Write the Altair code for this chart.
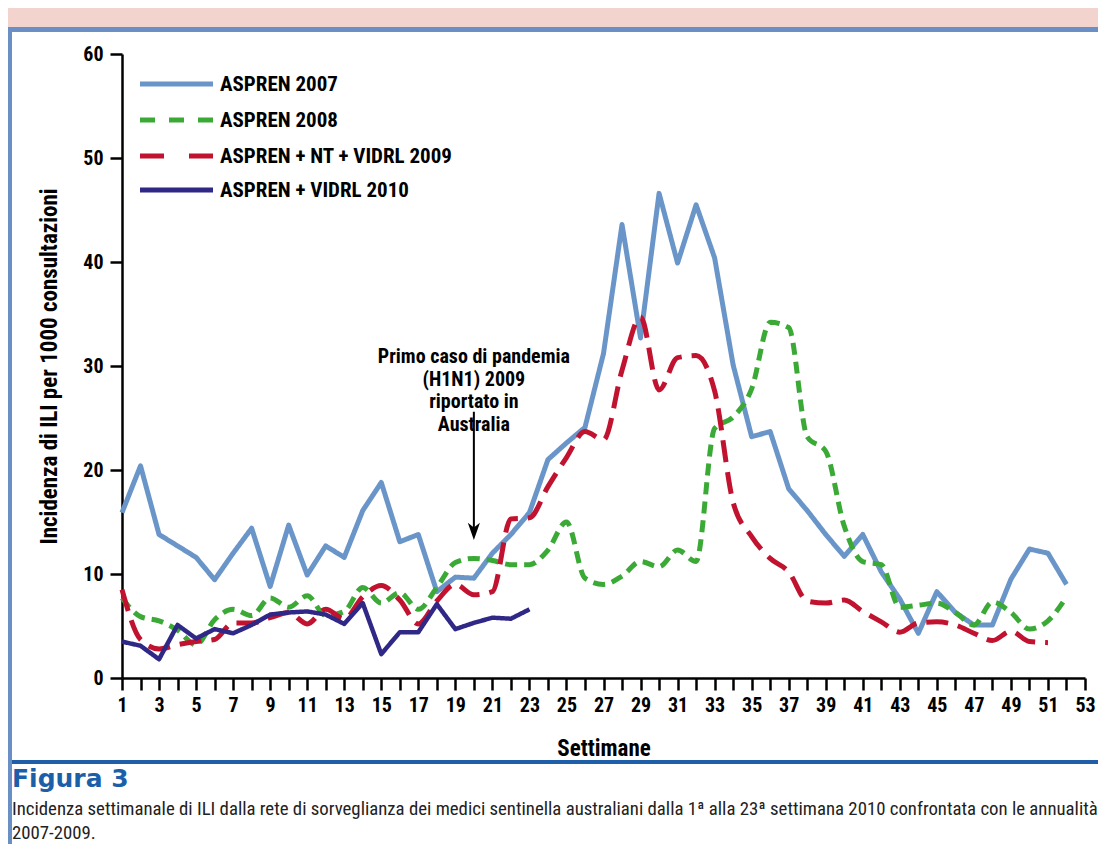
import altair as alt
import pandas as pd

FONT = "Liberation Sans Narrow, Roboto Condensed, DejaVu Sans Condensed, Arial Narrow, Liberation Sans, sans-serif"

weeks = list(range(1, 54))
series_names = ["ASPREN 2007", "ASPREN 2008", "ASPREN + NT + VIDRL 2009", "ASPREN + VIDRL 2010"]
series_colors = ["#6a95c9", "#3aa935", "#c1132f", "#2f2886"]
series_dash = [[1, 0], [12, 7], [22, 10], [1, 0]]
legend_dash = [[1, 0], [15, 14], [24, 25], [1, 0]]

s2007 = [15.9, 20.4, 13.8, 12.7, 11.6, 9.45, 12.0, 14.4, 8.8, 14.7,
         9.9, 12.7, 11.6, 16.1, 18.8, 13.1, 13.8, 8.3, 9.7, 9.6,
         12.0, 13.8, 15.9, 21.0, 22.6, 24.1, 31.2, 43.6, 32.7, 46.6,
         39.9, 45.5, 40.4, 30.1, 23.2, 23.7, 18.2, 16.1, 13.8, 11.7,
         13.8, 10.2, 7.6, 4.3, 8.3, 6.3, 5.1, 5.1, 9.5, 12.4,
         12.0, 9.0]
s2008 = [7.7, 5.9, 5.5, 4.6, 3.2, 5.6, 6.6, 6.0, 7.7, 6.8,
         7.9, 6.0, 6.4, 8.7, 7.2, 8.2, 6.6, 8.7, 11.1, 11.5,
         11.3, 10.9, 10.9, 12.3, 15.0, 9.6, 9.0, 9.8, 11.2, 10.7,
         12.3, 11.2, 24.0, 25.1, 27.8, 34.2, 33.7, 23.2, 21.8, 14.6,
         11.2, 10.9, 6.8, 7.0, 7.2, 6.3, 5.1, 7.3, 6.3, 4.7,
         5.5, 7.8]
s2009 = [8.5, 3.7, 2.8, 3.2, 3.5, 3.7, 5.3, 5.3, 5.8, 6.3,
         5.2, 6.6, 5.7, 7.8, 8.9, 7.5, 5.2, 7.4, 9.0, 8.0,
         8.3, 15.3, 15.4, 18.4, 21.2, 23.7, 22.9, 29.6, 34.7, 27.7,
         30.8, 31.0, 27.6, 16.9, 13.6, 11.5, 10.2, 7.4, 7.2, 7.5,
         6.4, 5.4, 4.4, 5.3, 5.4, 5.1, 4.3, 3.6, 4.5, 3.5,
         3.4]
s2010 = [3.5, 3.1, 1.8, 5.1, 3.8, 4.7, 4.3, 5.1, 6.1, 6.3,
         6.4, 6.1, 5.2, 7.2, 2.3, 4.4, 4.4, 7.1, 4.7, 5.3,
         5.8, 5.7, 6.6]

ann_lines = ["Primo caso di pandemia", "(H1N1) 2009", "riportato in", "Australia"]
ann_week = 20
ann_y = [30.85, 28.65, 26.5, 24.35]
arrow_from = 25.6
arrow_to = 14.1

fig_label = "Figura 3"
caption_1 = ("Incidenza settimanale di ILI dalla rete di sorveglianza dei medici sentinella australiani "
             "dalla 1ª alla 23ª settimana 2010 confrontata con le annualità")
caption_2 = "2007-2009."

rows = []
for name, vals in zip(series_names, [s2007, s2008, s2009, s2010]):
    for w, v in zip(weeks, vals):
        rows.append({"week": w, "value": v, "serie": name})
df = pd.DataFrame(rows)

x_axis = alt.Axis(
    values=weeks,
    labelExpr="datum.value % 2 == 1 ? datum.label : ''",
    tickSize=12, tickWidth=2.5, tickColor="black",
    domainColor="black", domainWidth=2.5,
    labelFont=FONT, labelFontSize=20, labelFontWeight="bold", labelColor="black",
    labelPadding=5, labelOverlap=False, labelFlush=False, grid=False,
    title="Settimane", titleFont=FONT, titleFontSize=23, titleFontWeight="bold",
    titleColor="black", titleY=70, titleBaseline="middle",
)
y_axis = alt.Axis(
    values=[0, 10, 20, 30, 40, 50, 60],
    tickSize=12, tickWidth=2.5, tickColor="black",
    domainColor="black", domainWidth=2.5,
    labelFont=FONT, labelFontSize=20, labelFontWeight="bold", labelColor="black",
    labelPadding=7, labelFlush=False, labelOverlap=False, grid=False,
    title="Incidenza di ILI per 1000 consultazioni", titleFont=FONT, titleFontSize=23,
    titleFontWeight="bold", titleColor="black", titleAngle=270,
    titleX=-73, titleY=312, titleAlign="center", titleBaseline="middle",
)
x_scale = alt.Scale(domain=[1, 53], nice=False, zero=False)
y_scale = alt.Scale(domain=[0, 60], nice=False, zero=True)


def X(field):
    return alt.X(field, type="quantitative", scale=x_scale, axis=x_axis)


def Y(field):
    return alt.Y(field, type="quantitative", scale=y_scale, axis=y_axis)


color_enc = alt.Color("serie:N", scale=alt.Scale(domain=series_names, range=series_colors), legend=None)
dash_enc = alt.StrokeDash("serie:N", scale=alt.Scale(domain=series_names, range=series_dash), legend=None)

base = alt.Chart(df).encode(x=X("week"), y=Y("value"), color=color_enc, strokeDash=dash_enc)

l2007 = base.transform_filter(alt.datum.serie == series_names[0]).mark_line(strokeWidth=5, strokeJoin="round")
lsmooth = base.transform_filter(
    (alt.datum.serie == series_names[1]) | (alt.datum.serie == series_names[2])
).mark_line(strokeWidth=5, interpolate="monotone", strokeJoin="round")
l2010 = base.transform_filter(alt.datum.serie == series_names[3]).mark_line(strokeWidth=4.5, strokeJoin="round")

ann_df = pd.DataFrame({"week": [ann_week] * len(ann_lines), "value": ann_y, "txt": ann_lines})
ann_text = alt.Chart(ann_df).mark_text(
    font=FONT, fontSize=20, fontWeight="bold", color="black", align="center", baseline="middle"
).encode(x=X("week"), y=Y("value"), text="txt:N")

arrow_df = pd.DataFrame({"week": [ann_week], "y1": [arrow_from], "y2": [arrow_to]})
arrow_line = alt.Chart(arrow_df).mark_rule(color="black", strokeWidth=2).encode(
    x=X("week"), y=Y("y1"), y2="y2:Q")
arrow_head = alt.Chart(arrow_df).mark_point(
    shape="M0,1L-0.7,-1L0,-0.45L0.7,-1Z", size=300, filled=True, color="black", opacity=1
).encode(x=X("week"), y=Y("y2"))

# custom legend
legend_layers = []
leg_x0, leg_x1, leg_text_x = 18, 91, 98
leg_y = [30, 66, 102, 136]
for name, col, dash, yy in zip(series_names, series_colors, legend_dash, leg_y):
    dd = pd.DataFrame({"serie": [name]})
    legend_layers.append(
        alt.Chart(dd).mark_rule(color=col, strokeWidth=5, strokeDash=dash).encode(
            x=alt.value(leg_x0), x2=alt.value(leg_x1), y=alt.value(yy))
    )
    legend_layers.append(
        alt.Chart(dd).mark_text(
            font=FONT, fontSize=21, fontWeight="bold", color="black", align="left", baseline="middle"
        ).encode(x=alt.value(leg_text_x), y=alt.value(yy + 1), text="serie:N")
    )

dummy = pd.DataFrame({"d": [0]})
pink = alt.Chart(dummy).mark_rect(color="#f2d3cd").encode(
    x=alt.value(-114), x2=alt.value(976), y=alt.value(-46), y2=alt.value(-27))
top_bar = alt.Chart(dummy).mark_rect(color="#6a8fc4").encode(
    x=alt.value(-114), x2=alt.value(976), y=alt.value(-27), y2=alt.value(-22))
left_bar = alt.Chart(dummy).mark_rect(color="#6a8fc4").encode(
    x=alt.value(-114), x2=alt.value(-110), y=alt.value(-27), y2=alt.value(790))
bottom_line = alt.Chart(dummy).mark_rect(color="#1f5ea8").encode(
    x=alt.value(-110), x2=alt.value(976), y=alt.value(706), y2=alt.value(710))
fig_text = alt.Chart(dummy).mark_text(
    font="DejaVu Sans", fontWeight="bold", fontSize=25, color="#1c5fa9", align="left", baseline="alphabetic"
).encode(x=alt.value(-110), y=alt.value(733), text=alt.value(fig_label))
cap1 = alt.Chart(dummy).mark_text(
    font=FONT, fontSize=18.8, color="#222222", align="left", baseline="alphabetic"
).encode(x=alt.value(-110), y=alt.value(761), text=alt.value(caption_1))
cap2 = alt.Chart(dummy).mark_text(
    font=FONT, fontSize=18.8, color="#222222", align="left", baseline="alphabetic"
).encode(x=alt.value(-110), y=alt.value(785), text=alt.value(caption_2))

chart = alt.layer(
    pink, top_bar, left_bar, bottom_line, fig_text, cap1, cap2,
    l2007, lsmooth, l2010, ann_text, arrow_line, arrow_head, *legend_layers,
).properties(
    width=963, height=624,
    autosize=alt.AutoSizeParams(type="none"),
    padding={"left": 114, "top": 46, "right": 13, "bottom": 166},
    background="white",
).configure_view(stroke=None)

chart.save("out.html", embed_options={"renderer": "svg", "actions": False})
